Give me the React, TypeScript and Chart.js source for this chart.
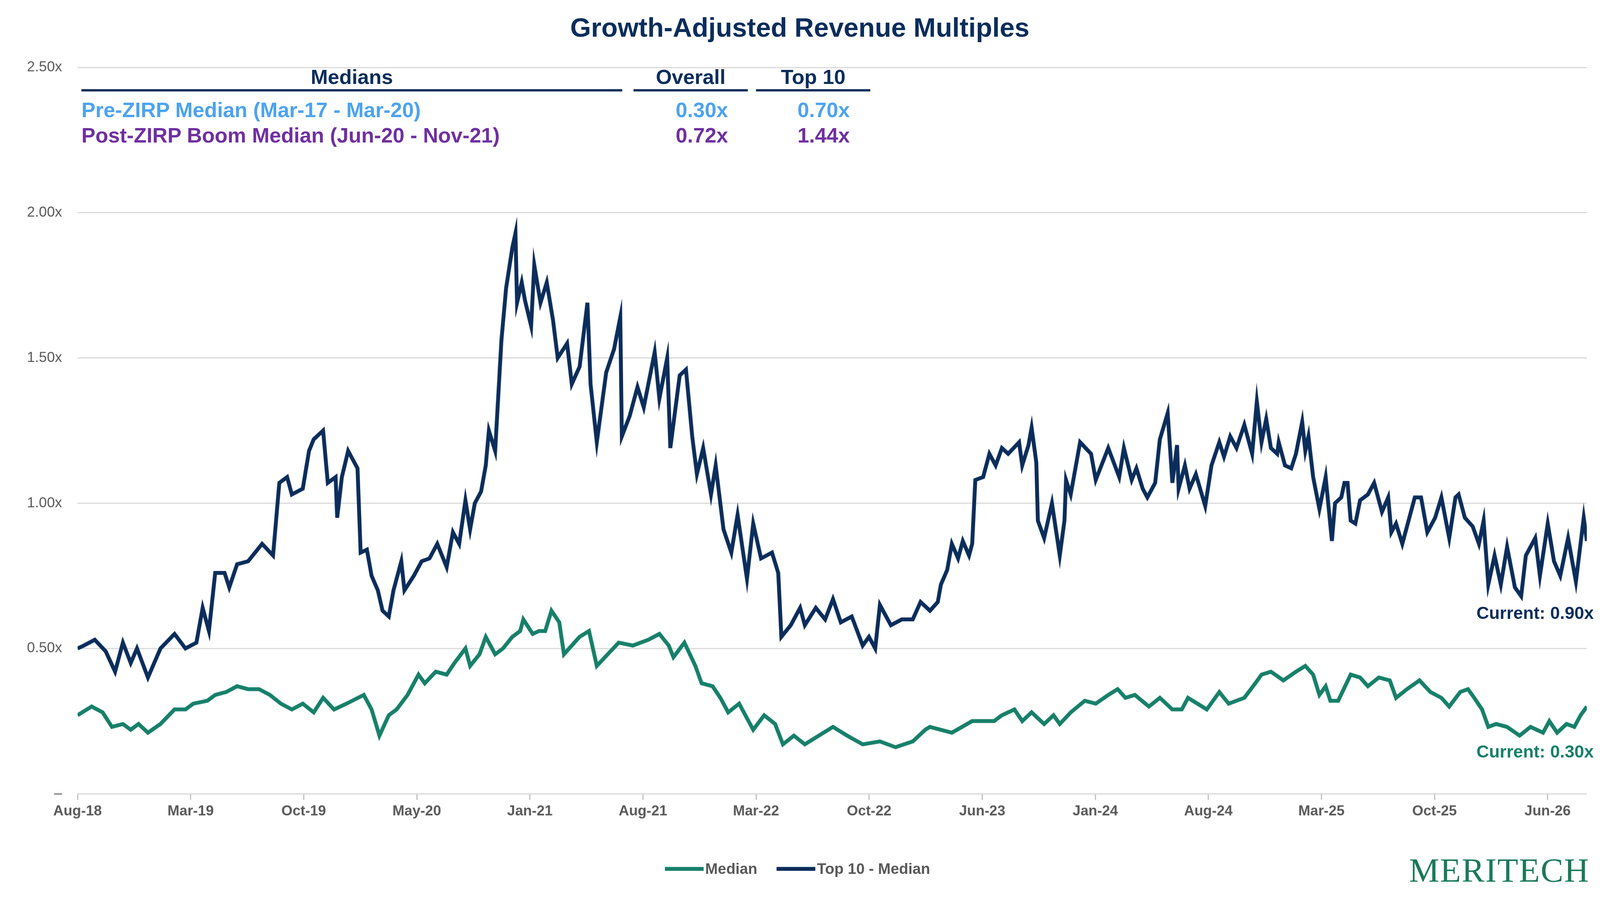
import React, { useEffect, useRef } from 'react';
import Chart from 'chart.js/auto';

// months since Aug-18
const medianMonths = [0, 0.9, 1.6, 2.2, 2.9, 3.4, 3.9, 4.5, 5.3, 6.2, 6.9, 7.4, 8.3, 8.8, 9.5, 10.2, 10.9, 11.6, 12.3, 13.0, 13.7, 14.4, 15.1, 15.7, 16.4, 17.2, 18.3, 18.8, 19.3, 19.9, 20.4, 21.1, 21.8, 22.2, 22.9, 23.6, 24.1, 24.8, 25.1, 25.7, 26.1, 26.7, 27.2, 27.8, 28.3, 28.5, 29.1, 29.5, 29.9, 30.3, 30.8, 31.1, 31.6, 32.1, 32.7, 33.2, 33.9, 34.6, 35.5, 36.5, 37.2, 37.8, 38.1, 38.8, 39.5, 39.9, 40.6, 41.1, 41.6, 42.3, 43.2, 43.9, 44.6, 45.1, 45.8, 46.5, 47.4, 48.3, 49.2, 50.2, 51.3, 52.3, 53.4, 54.2,
  54.5, 55.9, 57.2, 58.6, 59.1, 59.9, 60.4, 61.0, 61.8, 62.4, 62.8, 63.5, 64.4, 65.1, 65.9, 66.5, 67.0, 67.6, 68.5, 69.2, 70.0, 70.6, 71.0, 72.2, 73.0, 73.6, 74.6, 75.3, 75.7, 76.3, 77.1, 77.9, 78.5, 79.0, 79.4, 79.8, 80.1, 80.6, 81.4, 82.0, 82.5, 83.2, 83.9, 84.3, 85.0, 85.8, 86.5, 87.2, 87.7, 88.4, 88.9, 89.3, 89.8, 90.2, 90.7, 91.4, 92.2, 92.9, 93.7, 94.1, 94.6, 95.2, 95.7, 96.1, 96.5];
const medianValues = [0.27, 0.30, 0.28, 0.23, 0.24, 0.22, 0.24, 0.21, 0.24, 0.29, 0.29, 0.31, 0.32, 0.34, 0.35, 0.37, 0.36, 0.36, 0.34, 0.31, 0.29, 0.31, 0.28, 0.33, 0.29, 0.31, 0.34, 0.29, 0.20, 0.27, 0.29, 0.34, 0.41, 0.38, 0.42, 0.41, 0.45, 0.50, 0.44, 0.48, 0.54, 0.48, 0.50, 0.54, 0.56, 0.60, 0.55, 0.56, 0.56, 0.63, 0.59, 0.48, 0.51, 0.54, 0.56, 0.44, 0.48, 0.52, 0.51, 0.53, 0.55, 0.51, 0.47, 0.52, 0.44, 0.38, 0.37, 0.33, 0.28, 0.31, 0.22, 0.27, 0.24, 0.17, 0.20, 0.17, 0.20, 0.23, 0.20, 0.17, 0.18, 0.16, 0.18, 0.22,
  0.23, 0.21, 0.25, 0.25, 0.27, 0.29, 0.25, 0.28, 0.24, 0.27, 0.24, 0.28, 0.32, 0.31, 0.34, 0.36, 0.33, 0.34, 0.30, 0.33, 0.29, 0.29, 0.33, 0.29, 0.35, 0.31, 0.33, 0.38, 0.41, 0.42, 0.39, 0.42, 0.44, 0.41, 0.34, 0.37, 0.32, 0.32, 0.41, 0.40, 0.37, 0.40, 0.39, 0.33, 0.36, 0.39, 0.35, 0.33, 0.30, 0.35, 0.36, 0.33, 0.29, 0.23, 0.24, 0.23, 0.20, 0.23, 0.21, 0.25, 0.21, 0.24, 0.23, 0.27, 0.30];

const topMonths = [0, 0.4, 1.1, 1.8, 2.4, 2.9, 3.4, 3.8, 4.5, 5.3, 6.2, 6.9, 7.6, 8.0, 8.4, 8.8, 9.4, 9.7, 10.2, 10.9, 11.8, 12.5, 12.9, 13.4, 13.7, 14.4, 14.8, 15.1, 15.7, 16.0, 16.5, 16.6, 16.9, 17.3, 17.9, 18.1, 18.5, 18.8, 19.2, 19.5, 19.9, 20.2, 20.7, 20.9, 21.5, 22.0, 22.5, 23.0, 23.6, 24.0, 24.4, 24.8, 25.1, 25.4, 25.8, 26.1, 26.3, 26.7, 27.1, 27.4, 27.8, 28.0, 28.1, 28.4, 28.6, 29.0, 29.2, 29.6, 30.0, 30.4, 30.7, 31.3, 31.6, 32.1, 32.6, 32.8, 33.2, 33.8, 34.3, 34.7, 34.8, 35.3, 35.8, 36.2, 36.9, 37.2, 37.7, 37.9, 38.5, 38.9, 39.3, 39.6, 40.0, 40.5, 40.8, 41.3, 41.8, 42.2, 42.8, 43.2, 43.7, 44.4, 44.8, 45.0, 45.6, 46.2, 46.5, 47.2, 47.8, 48.3, 48.8, 49.5, 50.2, 50.6, 51.0, 51.3, 52.0, 52.7, 53.4, 53.9,
  54.5, 55.0, 55.2, 55.6, 55.9, 56.3, 56.6, 57.0, 57.2, 57.4, 57.9, 58.3, 58.7, 59.1, 59.5, 60.2, 60.4, 60.8, 61.0, 61.3, 61.4, 61.8, 62.3, 62.8, 63.1, 63.2, 63.5, 64.1, 64.8, 65.1, 65.9, 66.6, 66.9, 67.4, 67.7, 68.1, 68.4, 68.9, 69.2, 69.7, 70.0, 70.3, 70.4, 70.8, 71.1, 71.5, 72.1, 72.5, 73.0, 73.3, 73.7, 74.1, 74.6, 75.1, 75.4, 75.7, 76.0, 76.3, 76.7, 76.8, 77.2, 77.6, 77.9, 78.3, 78.5, 78.7, 79.0, 79.4, 79.8, 80.2, 80.4, 80.8, 81.0, 81.2, 81.4, 81.7, 82.0, 82.5, 82.9, 83.4, 83.8, 84.0, 84.3, 84.7, 85.0, 85.5, 85.9, 86.3, 86.8, 87.2, 87.7, 88.1, 88.3, 88.7, 89.2, 89.6, 89.9, 90.2, 90.6, 91.0, 91.4, 91.9, 92.3, 92.6, 93.2, 93.5, 94.0, 94.4, 94.8, 95.3, 95.8, 96.3, 96.5];
const topValues = [0.50, 0.51, 0.53, 0.49, 0.42, 0.52, 0.45, 0.50, 0.40, 0.50, 0.55, 0.50, 0.52, 0.64, 0.56, 0.76, 0.76, 0.71, 0.79, 0.80, 0.86, 0.82, 1.07, 1.09, 1.03, 1.05, 1.18, 1.22, 1.25, 1.07, 1.09, 0.95, 1.09, 1.18, 1.12, 0.83, 0.84, 0.75, 0.70, 0.63, 0.61, 0.70, 0.80, 0.70, 0.75, 0.80, 0.81, 0.86, 0.78, 0.90, 0.86, 1.01, 0.91, 1.00, 1.04, 1.13, 1.25, 1.18, 1.56, 1.74, 1.88, 1.93, 1.69, 1.76, 1.70, 1.61, 1.82, 1.69, 1.76, 1.63, 1.50, 1.55, 1.41, 1.47, 1.69, 1.41, 1.21, 1.45, 1.53, 1.64, 1.23, 1.30, 1.40, 1.33, 1.52, 1.36, 1.50, 1.19, 1.44, 1.46, 1.23, 1.10, 1.19, 1.03, 1.13, 0.91, 0.83, 0.96, 0.74, 0.93, 0.81, 0.83, 0.76, 0.54, 0.58, 0.64, 0.58, 0.64, 0.60, 0.67, 0.59, 0.61, 0.51, 0.54, 0.50, 0.65, 0.58, 0.60, 0.60, 0.66,
  0.63, 0.66, 0.72, 0.77, 0.86, 0.81, 0.87, 0.82, 0.86, 1.08, 1.09, 1.17, 1.13, 1.19, 1.17, 1.21, 1.13, 1.20, 1.26, 1.14, 0.94, 0.88, 1.00, 0.82, 0.94, 1.08, 1.03, 1.21, 1.17, 1.08, 1.19, 1.09, 1.19, 1.08, 1.12, 1.05, 1.02, 1.07, 1.22, 1.31, 1.07, 1.20, 1.05, 1.13, 1.05, 1.10, 0.99, 1.13, 1.21, 1.16, 1.23, 1.19, 1.27, 1.17, 1.35, 1.21, 1.29, 1.19, 1.17, 1.21, 1.13, 1.12, 1.17, 1.28, 1.18, 1.23, 1.09, 0.98, 1.09, 0.87, 1.00, 1.02, 1.07, 1.07, 0.94, 0.93, 1.01, 1.03, 1.07, 0.97, 1.02, 0.90, 0.93, 0.86, 0.92, 1.02, 1.02, 0.90, 0.95, 1.02, 0.88, 1.02, 1.03, 0.95, 0.92, 0.86, 0.94, 0.72, 0.82, 0.72, 0.85, 0.71, 0.68, 0.82, 0.88, 0.75, 0.93, 0.80, 0.75, 0.88, 0.73, 0.95, 0.87];

const xLabels = ['Aug-18', 'Mar-19', 'Oct-19', 'May-20', 'Jan-21', 'Aug-21', 'Mar-22', 'Oct-22', 'Jun-23', 'Jan-24', 'Aug-24', 'Mar-25', 'Oct-25', 'Jun-26'];
const tickStep = 7.23;

const NAVY = '#0b2d5b';
const GREEN = '#17806a';
const FONT = '"Liberation Sans", Arial, sans-serif';

const App: React.FC = () => {
  const chartRef = useRef<HTMLCanvasElement | null>(null);

  useEffect(() => {
    document.body.style.margin = '0';
    if (!chartRef.current) return;
    const chart = new Chart(chartRef.current, {
      type: 'line',
      data: {
        datasets: [
          {
            label: 'Median',
            data: medianMonths.map((m, i) => ({ x: m, y: medianValues[i] })),
            borderColor: GREEN,
            borderWidth: 10,
            pointRadius: 0,
          },
          {
            label: 'Top 10 - Median',
            data: topMonths.map((m, i) => ({ x: m, y: topValues[i] })),
            borderColor: NAVY,
            borderWidth: 10,
            pointRadius: 0,
          },
        ],
      },
      options: {
        animation: false,
        responsive: false,
        layout: { padding: { top: 174, right: 33, left: 0, bottom: 0 } },
        plugins: { legend: { display: false }, title: { display: false }, tooltip: { enabled: false } },
        scales: {
          x: {
            type: 'linear',
            min: 0,
            max: 96.5,
            afterFit: (s: any) => { s.height = 262; },
            afterBuildTicks: (s: any) => { s.ticks = xLabels.map((_, k) => ({ value: k * tickStep })); },
            ticks: {
              callback: (_v: any, i: number) => xLabels[i],
              font: { family: FONT, size: 37, weight: 'bold' },
              color: '#595959',
              maxRotation: 0,
              autoSkip: false,
              padding: 8,
            },
            grid: { drawOnChartArea: false, drawTicks: true, tickLength: 16, color: '#bfbfbf', lineWidth: 3 },
            border: { display: false },
          },
          y: {
            min: 0,
            max: 2.5,
            afterFit: (s: any) => { s.width = 200; },
            ticks: {
              stepSize: 0.5,
              callback: (v: any) => (v === 0 ? '–' : Number(v).toFixed(2) + 'x'),
              font: { family: FONT, size: 37 },
              color: '#595959',
              padding: 40,
            },
            grid: { color: '#d9d9d9', lineWidth: 3, drawTicks: false },
            border: { display: false },
          },
        },
      },
    });
    return () => chart.destroy();
  }, []);

  const abs = (s: React.CSSProperties): React.CSSProperties => ({ position: 'absolute', fontFamily: FONT, fontWeight: 'bold', whiteSpace: 'nowrap', ...s });
  const line = (l: number, w: number): React.CSSProperties => ({ position: 'absolute', left: l, width: w, top: 230, height: 6, background: NAVY });

  return (
    <div style={{ position: 'relative', width: 4126, height: 2310, overflow: 'hidden' }}>
      <div style={{ position: 'absolute', left: 0, top: 0, width: 4126, height: 2310, background: '#fff', transform: 'scale(0.9925)', transformOrigin: '0 0' }}>
        <canvas ref={chartRef} width={4126} height={2310} style={{ position: 'absolute', left: 0, top: 0 }} />
        <div style={abs({ left: 0, width: 4126, textAlign: 'center', top: 32, fontSize: 69, color: NAVY })}>Growth-Adjusted Revenue Multiples</div>
        <div style={abs({ left: 210, width: 1395, textAlign: 'center', top: 168, fontSize: 53, color: NAVY })}>Medians</div>
        <div style={abs({ left: 1634, width: 295, textAlign: 'center', top: 168, fontSize: 53, color: NAVY })}>Overall</div>
        <div style={abs({ left: 1950, width: 295, textAlign: 'center', top: 168, fontSize: 53, color: NAVY })}>Top 10</div>
        <div style={line(210, 1395)} />
        <div style={line(1634, 295)} />
        <div style={line(1950, 295)} />
        <div style={abs({ left: 210, top: 252, fontSize: 54, color: '#4da3f0' })}>Pre-ZIRP Median (Mar-17 - Mar-20)</div>
        <div style={abs({ right: 4126 - 1878, top: 252, fontSize: 54, color: '#4da3f0' })}>0.30x</div>
        <div style={abs({ right: 4126 - 2192, top: 252, fontSize: 54, color: '#4da3f0' })}>0.70x</div>
        <div style={abs({ left: 210, top: 318, fontSize: 54, color: '#7030a0' })}>Post-ZIRP Boom Median (Jun-20 - Nov-21)</div>
        <div style={abs({ right: 4126 - 1878, top: 318, fontSize: 54, color: '#7030a0' })}>0.72x</div>
        <div style={abs({ right: 4126 - 2192, top: 318, fontSize: 54, color: '#7030a0' })}>1.44x</div>
        <div style={abs({ right: 4126 - 4111, top: 1556, fontSize: 45, color: NAVY })}>Current: 0.90x</div>
        <div style={abs({ right: 4126 - 4111, top: 1914, fontSize: 45, color: GREEN })}>Current: 0.30x</div>
        <div style={abs({ left: 1715, top: 2220, fontSize: 39, color: '#595959', display: 'flex', alignItems: 'center' })}>
          <span style={{ display: 'inline-block', width: 100, height: 10, background: GREEN, marginRight: 4 }} />Median
          <span style={{ display: 'inline-block', width: 100, height: 10, background: NAVY, marginLeft: 50, marginRight: 4 }} />Top 10 - Median
        </div>
        <div style={{ position: 'absolute', right: 4126 - 4100, top: 2195, fontFamily: '"Liberation Serif", "Times New Roman", serif', fontSize: 88, color: '#1a7a5a', letterSpacing: 2 }}>MERITECH</div>
      </div>
    </div>
  );
};

export default App;
